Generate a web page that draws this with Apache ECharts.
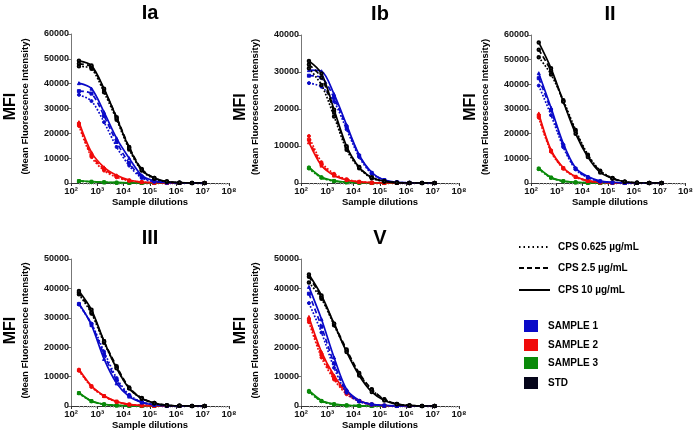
<!DOCTYPE html>
<html><head><meta charset="utf-8">
<script src="https://cdn.jsdelivr.net/npm/echarts@6/dist/echarts.min.js"></script>
<style>html,body{margin:0;padding:0;background:#fff}#c{width:696px;height:433px}</style>
</head><body><div id="c"></div>
<script>
// Sample dilutions (3-fold series)
const dilutions = [200, 600, 1800, 5400, 16200, 48600, 145800, 437400, 1312200, 3936600, 11809800];
const xTicks = ['10²','10³','10⁴','10⁵','10⁶','10⁷','10⁸'];
const panels = ['Ia', 'Ib', 'II', 'III', 'V'];
const yMax = [60000, 40000, 60000, 50000, 50000];
const concLabels = ['CPS 0.625 µg/mL', 'CPS 2.5 µg/mL', 'CPS 10 µg/mL'];
const sampleLabels = ['SAMPLE 1', 'SAMPLE 2', 'SAMPLE 3', 'STD'];

// ---- Ia ----
const Ia_S1_dot   = [35500, 33000, 24500, 14500, 7000, 2000, 500, 150, 50, 0, 0];
const Ia_S1_dash  = [37000, 36000, 27000, 16500, 8000, 2500, 700, 200, 50, 0, 0];
const Ia_S1_solid = [40200, 38000, 28500, 18000, 10000, 3100, 900, 250, 50, 0, 0];
const Ia_S2_dot   = [23000, 10500, 5000, 2300, 900, 300, 100, 0, 0, 0, 0];
const Ia_S2_dash  = [23800, 11200, 5600, 2600, 1000, 350, 100, 0, 0, 0, 0];
const Ia_S2_solid = [24500, 12300, 6300, 3100, 1200, 400, 100, 0, 0, 0, 0];
const Ia_S3_dot   = [700, 450, 250, 120, 60, 20, 0, 0, 0, 0, 0];
const Ia_S3_dash  = [800, 500, 300, 150, 80, 30, 0, 0, 0, 0, 0];
const Ia_S3_solid = [900, 550, 320, 160, 90, 30, 0, 0, 0, 0, 0];
const Ia_STD_dot   = [47000, 46000, 36500, 25500, 13500, 5000, 1700, 500, 100, 0, 0];
const Ia_STD_dash  = [48000, 46800, 37500, 26500, 14500, 5600, 2000, 600, 150, 0, 0];
const Ia_STD_solid = [49200, 47300, 38000, 26200, 14100, 5200, 2000, 600, 150, 0, 0];
// ---- Ib ----
const Ib_S1_dot   = [27000, 26000, 22000, 14500, 7000, 2500, 700, 200, 50, 0, 0];
const Ib_S1_dash  = [29000, 28500, 23000, 15200, 7400, 2700, 800, 200, 50, 0, 0];
const Ib_S1_solid = [30500, 30200, 24000, 15700, 7600, 2900, 800, 200, 50, 0, 0];
const Ib_S2_dot   = [12700, 5600, 2500, 1000, 350, 100, 0, 0, 0, 0, 0];
const Ib_S2_dash  = [11700, 5000, 2200, 900, 300, 100, 0, 0, 0, 0, 0];
const Ib_S2_solid = [11000, 4700, 2000, 800, 300, 100, 0, 0, 0, 0, 0];
const Ib_S3_dot   = [3900, 1400, 500, 200, 80, 0, 0, 0, 0, 0, 0];
const Ib_S3_dash  = [4100, 1500, 550, 200, 80, 0, 0, 0, 0, 0, 0];
const Ib_S3_solid = [4300, 1600, 600, 220, 90, 0, 0, 0, 0, 0, 0];
const Ib_STD_dot   = [31000, 26500, 18000, 9000, 4000, 1300, 400, 100, 0, 0, 0];
const Ib_STD_dash  = [32000, 28500, 19200, 9600, 4300, 1500, 450, 100, 0, 0, 0];
const Ib_STD_solid = [33000, 29600, 19800, 9900, 4200, 1500, 500, 100, 0, 0, 0];
// ---- II ----
const II_S1_dot   = [39500, 27500, 14500, 5500, 2200, 600, 200, 50, 0, 0, 0];
const II_S1_dash  = [42500, 29500, 15200, 5800, 2300, 700, 200, 50, 0, 0, 0];
const II_S1_solid = [44500, 30500, 16000, 6100, 2600, 800, 300, 50, 0, 0, 0];
const II_S2_dot   = [26500, 12700, 5800, 2400, 800, 250, 50, 0, 0, 0, 0];
const II_S2_dash  = [27300, 13000, 6000, 2500, 850, 280, 50, 0, 0, 0, 0];
const II_S2_solid = [28200, 13400, 6200, 2600, 900, 300, 100, 0, 0, 0, 0];
const II_S3_dot   = [5600, 2100, 700, 250, 80, 0, 0, 0, 0, 0, 0];
const II_S3_dash  = [5800, 2200, 750, 270, 90, 0, 0, 0, 0, 0, 0];
const II_S3_solid = [6000, 2300, 800, 300, 100, 0, 0, 0, 0, 0, 0];
const II_STD_dot   = [51000, 44000, 33500, 21500, 11500, 5000, 2000, 500, 100, 0, 0];
const II_STD_dash  = [54000, 45500, 33000, 21000, 11000, 4800, 1800, 500, 100, 0, 0];
const II_STD_solid = [57000, 46500, 33000, 20000, 10500, 4300, 1900, 500, 100, 0, 0];
// ---- III ----
const III_S1_dot   = [34500, 28000, 18500, 9500, 3800, 1400, 500, 100, 0, 0, 0];
const III_S1_dash  = [34700, 27800, 17500, 8800, 3500, 1300, 450, 100, 0, 0, 0];
const III_S1_solid = [34900, 27500, 16000, 7700, 3200, 1200, 400, 100, 0, 0, 0];
const III_S2_dot   = [12000, 6500, 3300, 1400, 500, 200, 50, 0, 0, 0, 0];
const III_S2_dash  = [12200, 6700, 3400, 1500, 500, 200, 50, 0, 0, 0, 0];
const III_S2_solid = [12500, 6800, 3500, 1500, 550, 200, 50, 0, 0, 0, 0];
const III_S3_dot   = [4300, 1600, 550, 200, 80, 0, 0, 0, 0, 0, 0];
const III_S3_dash  = [4400, 1650, 580, 200, 90, 0, 0, 0, 0, 0, 0];
const III_S3_solid = [4500, 1700, 600, 220, 100, 0, 0, 0, 0, 0, 0];
const III_STD_dot   = [38000, 31500, 21500, 13000, 6000, 2500, 900, 200, 50, 0, 0];
const III_STD_dash  = [38500, 32000, 22000, 13500, 6300, 2700, 1000, 250, 50, 0, 0];
const III_STD_solid = [39100, 32700, 22000, 12800, 6000, 2600, 1000, 250, 50, 0, 0];
// ---- V ----
const V_S1_dot   = [35000, 25000, 13000, 4500, 1500, 500, 150, 0, 0, 0, 0];
const V_S1_dash  = [38200, 27000, 14500, 5000, 1700, 550, 150, 0, 0, 0, 0];
const V_S1_solid = [40500, 29500, 16500, 5600, 1900, 600, 200, 50, 0, 0, 0];
const V_S2_dot   = [28500, 16500, 9000, 4000, 1600, 500, 100, 0, 0, 0, 0];
const V_S2_dash  = [29400, 17500, 9600, 4400, 1700, 500, 100, 0, 0, 0, 0];
const V_S2_solid = [30300, 18400, 10400, 4800, 1900, 500, 100, 0, 0, 0, 0];
const V_S3_dot   = [4800, 1600, 550, 200, 80, 0, 0, 0, 0, 0, 0];
const V_S3_dash  = [5000, 1700, 600, 220, 90, 0, 0, 0, 0, 0, 0];
const V_S3_solid = [5300, 1900, 650, 250, 100, 0, 0, 0, 0, 0, 0];
const V_STD_dot   = [42000, 36500, 27500, 18700, 10800, 5500, 2200, 700, 200, 0, 0];
const V_STD_dash  = [44000, 37000, 28000, 19200, 11200, 5700, 2300, 700, 200, 0, 0];
const V_STD_solid = [44700, 37600, 28000, 18400, 10400, 4800, 1900, 600, 200, 0, 0];

const panelData = {
  Ia:  [[Ia_S1_dot, Ia_S1_dash, Ia_S1_solid], [Ia_S2_dot, Ia_S2_dash, Ia_S2_solid], [Ia_S3_dot, Ia_S3_dash, Ia_S3_solid], [Ia_STD_dot, Ia_STD_dash, Ia_STD_solid]],
  Ib:  [[Ib_S1_dot, Ib_S1_dash, Ib_S1_solid], [Ib_S2_dot, Ib_S2_dash, Ib_S2_solid], [Ib_S3_dot, Ib_S3_dash, Ib_S3_solid], [Ib_STD_dot, Ib_STD_dash, Ib_STD_solid]],
  II:  [[II_S1_dot, II_S1_dash, II_S1_solid], [II_S2_dot, II_S2_dash, II_S2_solid], [II_S3_dot, II_S3_dash, II_S3_solid], [II_STD_dot, II_STD_dash, II_STD_solid]],
  III: [[III_S1_dot, III_S1_dash, III_S1_solid], [III_S2_dot, III_S2_dash, III_S2_solid], [III_S3_dot, III_S3_dash, III_S3_solid], [III_STD_dot, III_STD_dash, III_STD_solid]],
  V:   [[V_S1_dot, V_S1_dash, V_S1_solid], [V_S2_dot, V_S2_dash, V_S2_solid], [V_S3_dot, V_S3_dash, V_S3_solid], [V_STD_dot, V_STD_dash, V_STD_solid]]
};

const colors = ['#0a0ac8', '#f00a0a', '#0a8a0a', '#000000'];
const lineTypes = ['dotted', [5, 3], 'solid'];
const symbols = ['circle', 'rect', 'triangle'];
const FONT = 'Liberation Sans, Arial, sans-serif';

const grids = [
  {left: 71, top: 34, width: 158, height: 149},
  {left: 301, top: 35, width: 158, height: 148},
  {left: 531, top: 35, width: 158, height: 148},
  {left: 71, top: 259, width: 158, height: 147},
  {left: 301, top: 259, width: 158, height: 147}
];

const xAxes = [], yAxes = [], series = [], graphics = [];
panels.forEach((p, i) => {
  xAxes.push({
    type: 'log', logBase: 10, min: 100, max: 1e8, gridIndex: i,
    axisLine: {lineStyle: {color: '#333', width: 1}},
    axisTick: {length: 3, lineStyle: {color: '#333'}},
    minorTick: {show: true, splitNumber: 9, length: 1.5, lineStyle: {color: '#999'}},
    splitLine: {show: false},
    axisLabel: {
      margin: 3, color: '#111', fontFamily: FONT, fontWeight: 'bold', fontSize: 9.5,
      formatter: v => xTicks[Math.round(Math.log10(v)) - 2]
    }
  });
  yAxes.push({
    type: 'value', min: 0, max: yMax[i], interval: 10000, gridIndex: i,
    axisLine: {show: true, lineStyle: {color: '#777', width: 1}},
    axisTick: {show: true, length: 3, lineStyle: {color: '#777'}},
    splitLine: {show: false},
    axisLabel: {margin: 2, color: '#111', fontFamily: FONT, fontWeight: 'bold', fontSize: 9,
      formatter: v => String(v)}
  });
  const g = grids[i];
  const cy = g.top + g.height / 2 - 2;
  graphics.push({type: 'text', x: g.left + 79, y: g.top - 21, style: {text: p, font: 'bold 20px ' + FONT, fill: '#000', textAlign: 'center', textVerticalAlign: 'middle'}});
  graphics.push({type: 'text', x: g.left - 60, y: cy, rotation: Math.PI / 2, style: {text: 'MFI', font: 'bold 16px ' + FONT, fill: '#000', textAlign: 'center', textVerticalAlign: 'middle'}});
  graphics.push({type: 'text', x: g.left - 46, y: cy, rotation: Math.PI / 2, style: {text: '(Mean Fluorescence Intensity)', font: 'bold 9.5px ' + FONT, fill: '#000', textAlign: 'center', textVerticalAlign: 'middle'}});
  graphics.push({type: 'text', x: g.left + 79, y: g.top + g.height + 19, style: {text: 'Sample dilutions', font: 'bold 9.5px ' + FONT, fill: '#000', textAlign: 'center', textVerticalAlign: 'middle'}});

  [2, 1, 0, 3].forEach(s => {
    [0, 1, 2].forEach(c => {
      const vals = panelData[p][s][c];
      series.push({
        type: 'line', xAxisIndex: i, yAxisIndex: i,
        name: p + ' ' + sampleLabels[s] + ' ' + concLabels[c],
        data: dilutions.map((d, k) => [d, vals[k]]),
        smooth: 0.3,
        symbol: s === 3 ? 'emptyCircle' : symbols[c],
        symbolSize: s === 3 ? 2.5 : 3,
        itemStyle: {color: colors[s], borderColor: s === 3 ? '#555' : colors[s], borderWidth: s === 3 ? 0.8 : 1},
        lineStyle: {color: colors[s], width: 1.7, type: lineTypes[c]},
        animation: false, silent: true
      });
    });
  });
});

// Legend (line styles)
const lx0 = 519, lx1 = 550, lt = 558;
const lys = [247, 268, 290];
concLabels.forEach((t, k) => {
  graphics.push({type: 'line', shape: {x1: lx0, y1: lys[k], x2: lx1, y2: lys[k]},
    style: {stroke: '#000', lineWidth: 2, lineDash: k === 0 ? [1.5, 3] : (k === 1 ? [5, 3] : null)}});
  graphics.push({type: 'text', x: lt, y: lys[k], style: {text: t, font: 'bold 10px ' + FONT, fill: '#000', textVerticalAlign: 'middle'}});
});
const sys = [326, 345, 363, 383];
sampleLabels.forEach((t, k) => {
  graphics.push({type: 'rect', shape: {x: 524, y: sys[k] - 6, width: 14, height: 12}, style: {fill: k === 3 ? '#05051a' : colors[k]}});
  graphics.push({type: 'text', x: 548, y: sys[k], style: {text: t, font: 'bold 10px ' + FONT, fill: '#000', textVerticalAlign: 'middle'}});
});

const chart = echarts.init(document.getElementById('c'), null, {renderer: 'canvas'});
chart.setOption({
  animation: false,
  backgroundColor: '#fff',
  grid: grids,
  xAxis: xAxes,
  yAxis: yAxes,
  series: series,
  graphic: graphics
});
</script>
</body></html>
